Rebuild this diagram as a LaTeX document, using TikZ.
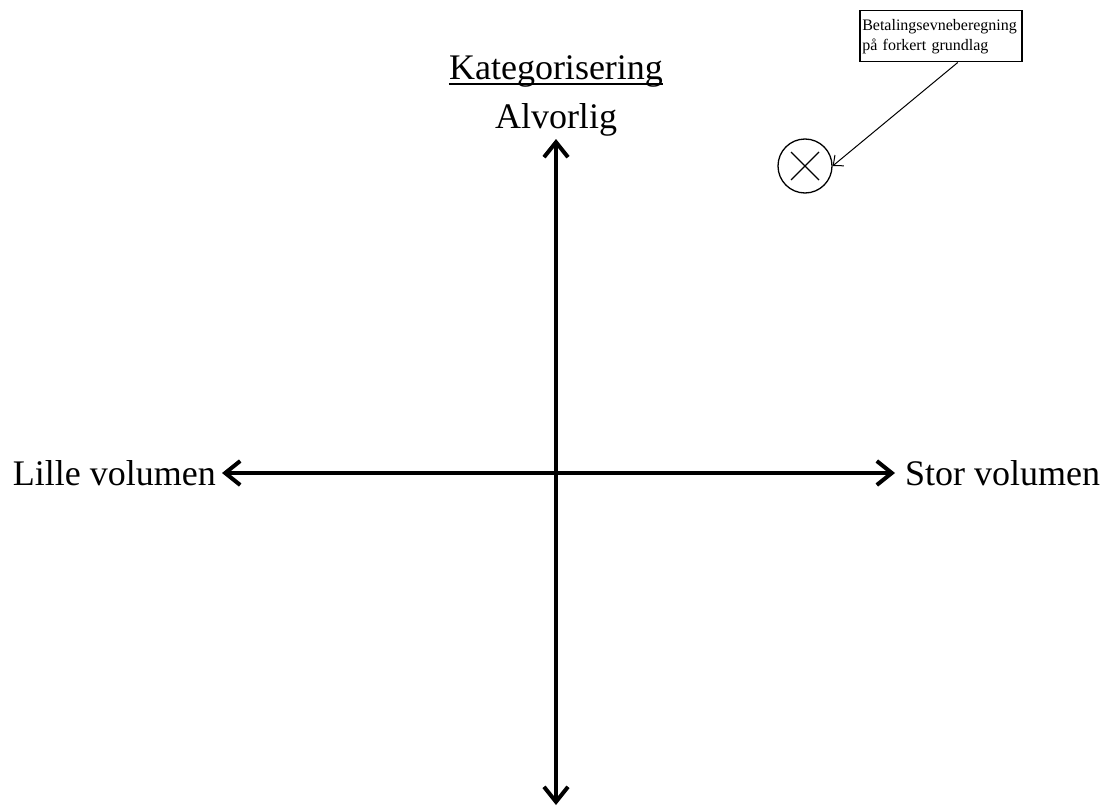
\documentclass[tikz,border=0pt]{standalone}
\usepackage{fontspec}
\setmainfont{Liberation Serif}
\usetikzlibrary{positioning, arrows.meta}
\tikzstyle{axislabel} = [font=\fontsize{36}{40}\selectfont, inner sep=0pt]
\tikzstyle{axis} = [line width=4pt, {Straight Barb[length=15pt,width=24pt]}-{Straight Barb[length=15pt,width=24pt]}]
\tikzstyle{notebox} = [rectangle, draw=black, line width=1.5pt, align=left, font=\fontsize{16}{20}\selectfont, inner xsep=2pt, inner ysep=3pt, minimum width=162pt, minimum height=51pt, text width=157pt]
\tikzstyle{marker} = [circle, draw=black, line width=1.3pt, minimum size=54pt, inner sep=0pt]
\tikzstyle{pointer} = [line width=1pt, -{Straight Barb[length=8pt,width=14pt]}]

\begin{document}
\begin{tikzpicture}[x=1pt, y=-1pt]
\useasboundingbox (0,0) rectangle (1109,808);

% Axis ends
\coordinate (west) at (222,473);
\coordinate (east) at (895,473);
\coordinate (top) at (556,139);
\coordinate (bottom) at (556,805);

% Nodes
\node (lille) [axislabel, left=6pt of west] {Lille volumen};
\node (stor) [axislabel, right=10pt of east] {Stor volumen};
\node (alvorlig) [axislabel, above=3pt of top] {Alvorlig};
\node (kategori) [axislabel, above=15pt of alvorlig] {Kategorisering};
\node (note) [notebox, anchor=north west] at (859,10) {Betalingsevneberegning\\på forkert grundlag};
\node (mark) [marker] at (805,166) {};

% Arrows
\draw [axis] (west) -- (east);
\draw [axis] (bottom) -- (top);
\draw [pointer] ([xshift=17pt]note.south) -- (mark.east);

% Underline and cross
\draw [line width=1.5pt] ([yshift=-4pt]kategori.base west) -- ([yshift=-4pt]kategori.base east);
\draw [line width=1.3pt] ([shift={(-14,-14)}]mark.center) -- ([shift={(14,14)}]mark.center);
\draw [line width=1.3pt] ([shift={(-14,14)}]mark.center) -- ([shift={(14,-14)}]mark.center);

\end{tikzpicture}
\end{document}
